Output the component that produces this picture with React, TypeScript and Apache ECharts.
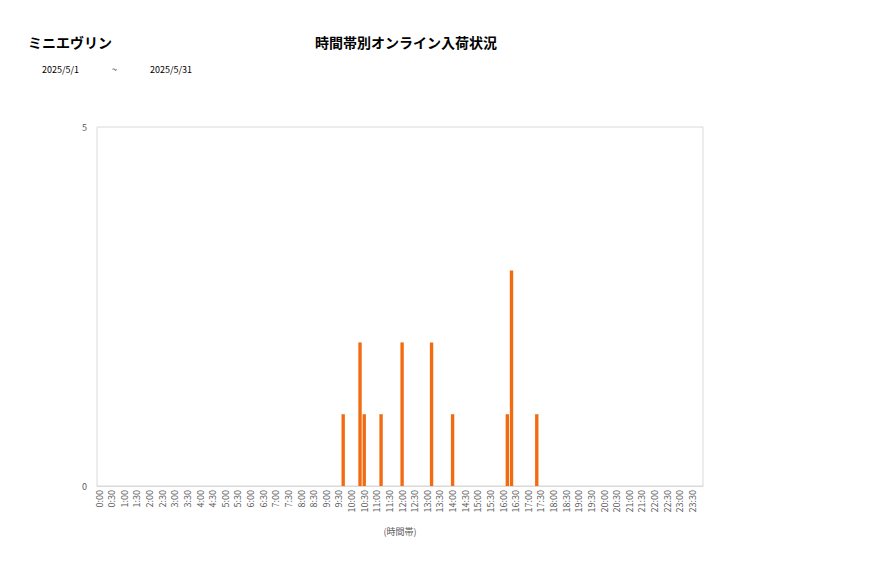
import React, { useEffect, useRef } from 'react';
import * as echarts from 'echarts';

// 10-minute slots, 0:00 .. 23:50
const hours = Array.from({ length: 24 }, (_, h) => h);
const minutes = ['00', '10', '20', '30', '40', '50'];
const timeSlots = hours.flatMap((h) => minutes.map((m) => `${h}:${m}`));

// arrivals per slot, one row per hour
const arrivals = [
  0, 0, 0, 0, 0, 0, // 0
  0, 0, 0, 0, 0, 0, // 1
  0, 0, 0, 0, 0, 0, // 2
  0, 0, 0, 0, 0, 0, // 3
  0, 0, 0, 0, 0, 0, // 4
  0, 0, 0, 0, 0, 0, // 5
  0, 0, 0, 0, 0, 0, // 6
  0, 0, 0, 0, 0, 0, // 7
  0, 0, 0, 0, 0, 0, // 8
  0, 0, 0, 0, 1, 0, // 9
  0, 0, 2, 1, 0, 0, // 10
  0, 1, 0, 0, 0, 0, // 11
  2, 0, 0, 0, 0, 0, // 12
  0, 2, 0, 0, 0, 0, // 13
  1, 0, 0, 0, 0, 0, // 14
  0, 0, 0, 0, 0, 0, // 15
  0, 1, 3, 0, 0, 0, // 16
  0, 0, 1, 0, 0, 0, // 17
  0, 0, 0, 0, 0, 0, // 18
  0, 0, 0, 0, 0, 0, // 19
  0, 0, 0, 0, 0, 0, // 20
  0, 0, 0, 0, 0, 0, // 21
  0, 0, 0, 0, 0, 0, // 22
  0, 0, 0, 0, 0, 0, // 23
];

const shopName = 'ミニエヴリン';
const chartTitle = '時間帯別オンライン入荷状況';
const dateFrom = '2025/5/1';
const dateTo = '2025/5/31';

const FONT = "'Noto Sans CJK JP', 'Noto Sans', sans-serif";

const App: React.FC = () => {
  const chartRef = useRef<HTMLDivElement>(null);

  useEffect(() => {
    document.body.style.margin = '0';
    const chart = echarts.init(chartRef.current!, undefined, { renderer: 'svg' });

    const big = { fontSize: 14, fontWeight: 'bold', color: '#000', fontFamily: FONT };
    const small = { fontSize: 9, fontWeight: 'normal', color: '#000', fontFamily: FONT };

    const options = {
      animation: false,
      textStyle: { fontFamily: FONT },
      title: [
        { text: shopName, left: 28, top: 35, padding: 0, textStyle: big },
        { text: chartTitle, left: 315, top: 35, padding: 0, textStyle: big },
        { text: dateFrom, left: 42, top: 65, padding: 0, textStyle: small },
        { text: '~', left: 112, top: 65, padding: 0, textStyle: small },
        { text: dateTo, left: 150, top: 65, padding: 0, textStyle: small },
      ],
      grid: {
        left: 97,
        right: 174,
        top: 127,
        bottom: 92,
        show: true,
        borderColor: '#d9d9d9',
        borderWidth: 1,
      },
      xAxis: {
        type: 'category',
        data: timeSlots,
        name: '(時間帯)',
        nameLocation: 'middle',
        nameGap: 41,
        nameTextStyle: { fontSize: 9, color: '#595959', fontFamily: FONT },
        axisLine: { show: true, lineStyle: { color: '#d9d9d9' } },
        axisTick: { show: false },
        axisLabel: {
          interval: 2,
          rotate: 90,
          fontSize: 9,
          color: '#595959',
          margin: 4,
          fontFamily: FONT,
        },
      },
      yAxis: {
        type: 'value',
        min: 0,
        max: 5,
        interval: 5,
        axisLine: { show: false },
        axisTick: { show: false },
        splitLine: { show: false },
        axisLabel: { fontSize: 9, color: '#595959', margin: 10, fontFamily: FONT },
      },
      series: [
        {
          type: 'bar',
          data: arrivals,
          barWidth: '80%',
          itemStyle: { color: '#F26B10' },
        },
      ],
    };

    chart.setOption(options);

    return () => {
      chart.dispose();
    };
  }, []);

  return <div ref={chartRef} style={{ width: '877px', height: '578px' }} />;
};

export default App;
